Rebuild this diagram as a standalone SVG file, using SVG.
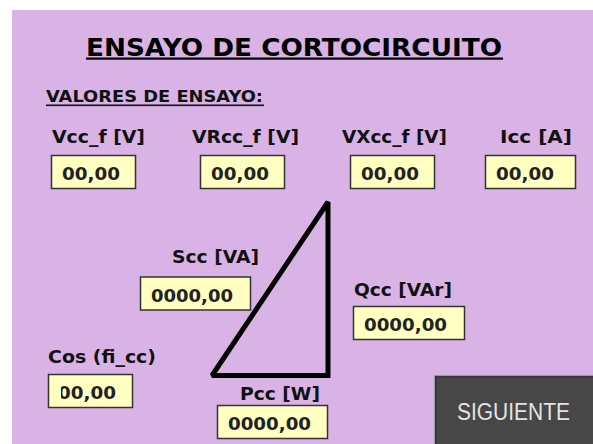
<svg xmlns="http://www.w3.org/2000/svg" width="593" height="444" viewBox="0 0 593 444">
<style>
.lbl{font-family:"DejaVu Sans","Liberation Sans",sans-serif;font-weight:bold;font-size:17px;fill:#111}
.val{font-family:"DejaVu Sans","Liberation Sans",sans-serif;font-weight:bold;font-size:17px;fill:#222}
.box{fill:#FFFFC2;stroke:#333;stroke-width:1.5}
</style>
<defs>
<clipPath id="cosclip"><rect x="61" y="375" width="71" height="31"/></clipPath>
</defs>
<rect x="0" y="0" width="593" height="444" fill="#ffffff"/>
<rect x="12" y="10" width="581" height="434" fill="#D9B3E6"/>
<g id="title">
<text x="86" y="56" font-family="DejaVu Sans, Liberation Sans, sans-serif" font-weight="bold" font-size="25" textLength="416" lengthAdjust="spacingAndGlyphs" fill="#000">ENSAYO DE CORTOCIRCUITO</text>
<rect x="86" y="57.5" width="417" height="2.2" fill="#000"/>
</g>
<g id="subtitle">
<text x="46" y="102" font-family="DejaVu Sans, Liberation Sans, sans-serif" font-weight="bold" font-size="15" textLength="217" lengthAdjust="spacingAndGlyphs" fill="#111">VALORES DE ENSAYO:</text>
<rect x="46" y="104.5" width="218" height="1.6" fill="#111"/>
</g>
<g id="vcc">
<text class="lbl" x="52" y="143" textLength="93" lengthAdjust="spacingAndGlyphs">Vcc_f [V]</text>
<rect class="box" x="51.5" y="155.5" width="84" height="33"/>
<text class="val" x="62" y="180" textLength="58" lengthAdjust="spacingAndGlyphs">00,00</text>
</g>
<g id="vrcc">
<text class="lbl" x="192" y="143" textLength="107" lengthAdjust="spacingAndGlyphs">VRcc_f [V]</text>
<rect class="box" x="200.5" y="155.5" width="84" height="33"/>
<text class="val" x="211" y="180" textLength="58" lengthAdjust="spacingAndGlyphs">00,00</text>
</g>
<g id="vxcc">
<text class="lbl" x="342" y="143" textLength="105" lengthAdjust="spacingAndGlyphs">VXcc_f [V]</text>
<rect class="box" x="350.5" y="155.5" width="84" height="33"/>
<text class="val" x="361" y="180" textLength="58" lengthAdjust="spacingAndGlyphs">00,00</text>
</g>
<g id="icc">
<text class="lbl" x="500" y="143" textLength="72" lengthAdjust="spacingAndGlyphs">Icc [A]</text>
<rect class="box" x="485.5" y="155.5" width="90" height="33"/>
<text class="val" x="496" y="180" textLength="58" lengthAdjust="spacingAndGlyphs">00,00</text>
</g>
<g id="triangle">
<polygon points="212,375.5 328,202 328,375.5" fill="none" stroke="#000" stroke-width="5" stroke-linejoin="miter" stroke-miterlimit="2"/>
</g>
<g id="scc">
<text class="lbl" x="172" y="263" textLength="87" lengthAdjust="spacingAndGlyphs">Scc [VA]</text>
<rect class="box" x="140.5" y="277" width="110" height="33"/>
<text class="val" x="151" y="302" textLength="82" lengthAdjust="spacingAndGlyphs">0000,00</text>
</g>
<g id="qcc">
<text class="lbl" x="354" y="296" textLength="98" lengthAdjust="spacingAndGlyphs">Qcc [VAr]</text>
<rect class="box" x="353.5" y="306.5" width="111" height="33"/>
<text class="val" x="364" y="331" textLength="83" lengthAdjust="spacingAndGlyphs">0000,00</text>
</g>
<g id="cos">
<text class="lbl" x="48" y="363" textLength="108" lengthAdjust="spacingAndGlyphs">Cos (fi_cc)</text>
<rect class="box" x="48.5" y="374.5" width="84" height="33"/>
<text class="val" x="58" y="399" textLength="58" lengthAdjust="spacingAndGlyphs" clip-path="url(#cosclip)">00,00</text>
</g>
<g id="pcc">
<text class="lbl" x="240" y="400" textLength="80" lengthAdjust="spacingAndGlyphs">Pcc [W]</text>
<rect class="box" x="217.5" y="405.5" width="110" height="33"/>
<text class="val" x="228" y="430" textLength="83" lengthAdjust="spacingAndGlyphs">0000,00</text>
</g>
<g id="siguiente">
<rect x="434.5" y="375.5" width="160" height="70" fill="#474747" stroke="#9a9a9a" stroke-width="1"/>
<rect x="436" y="377" width="158" height="68" fill="none" stroke="#2e2e2e" stroke-width="1"/>
<text x="457" y="420" font-family="Liberation Sans, Arial, sans-serif" font-size="23" textLength="113" lengthAdjust="spacingAndGlyphs" fill="#e4e4e4">SIGUIENTE</text>
</g>
</svg>
